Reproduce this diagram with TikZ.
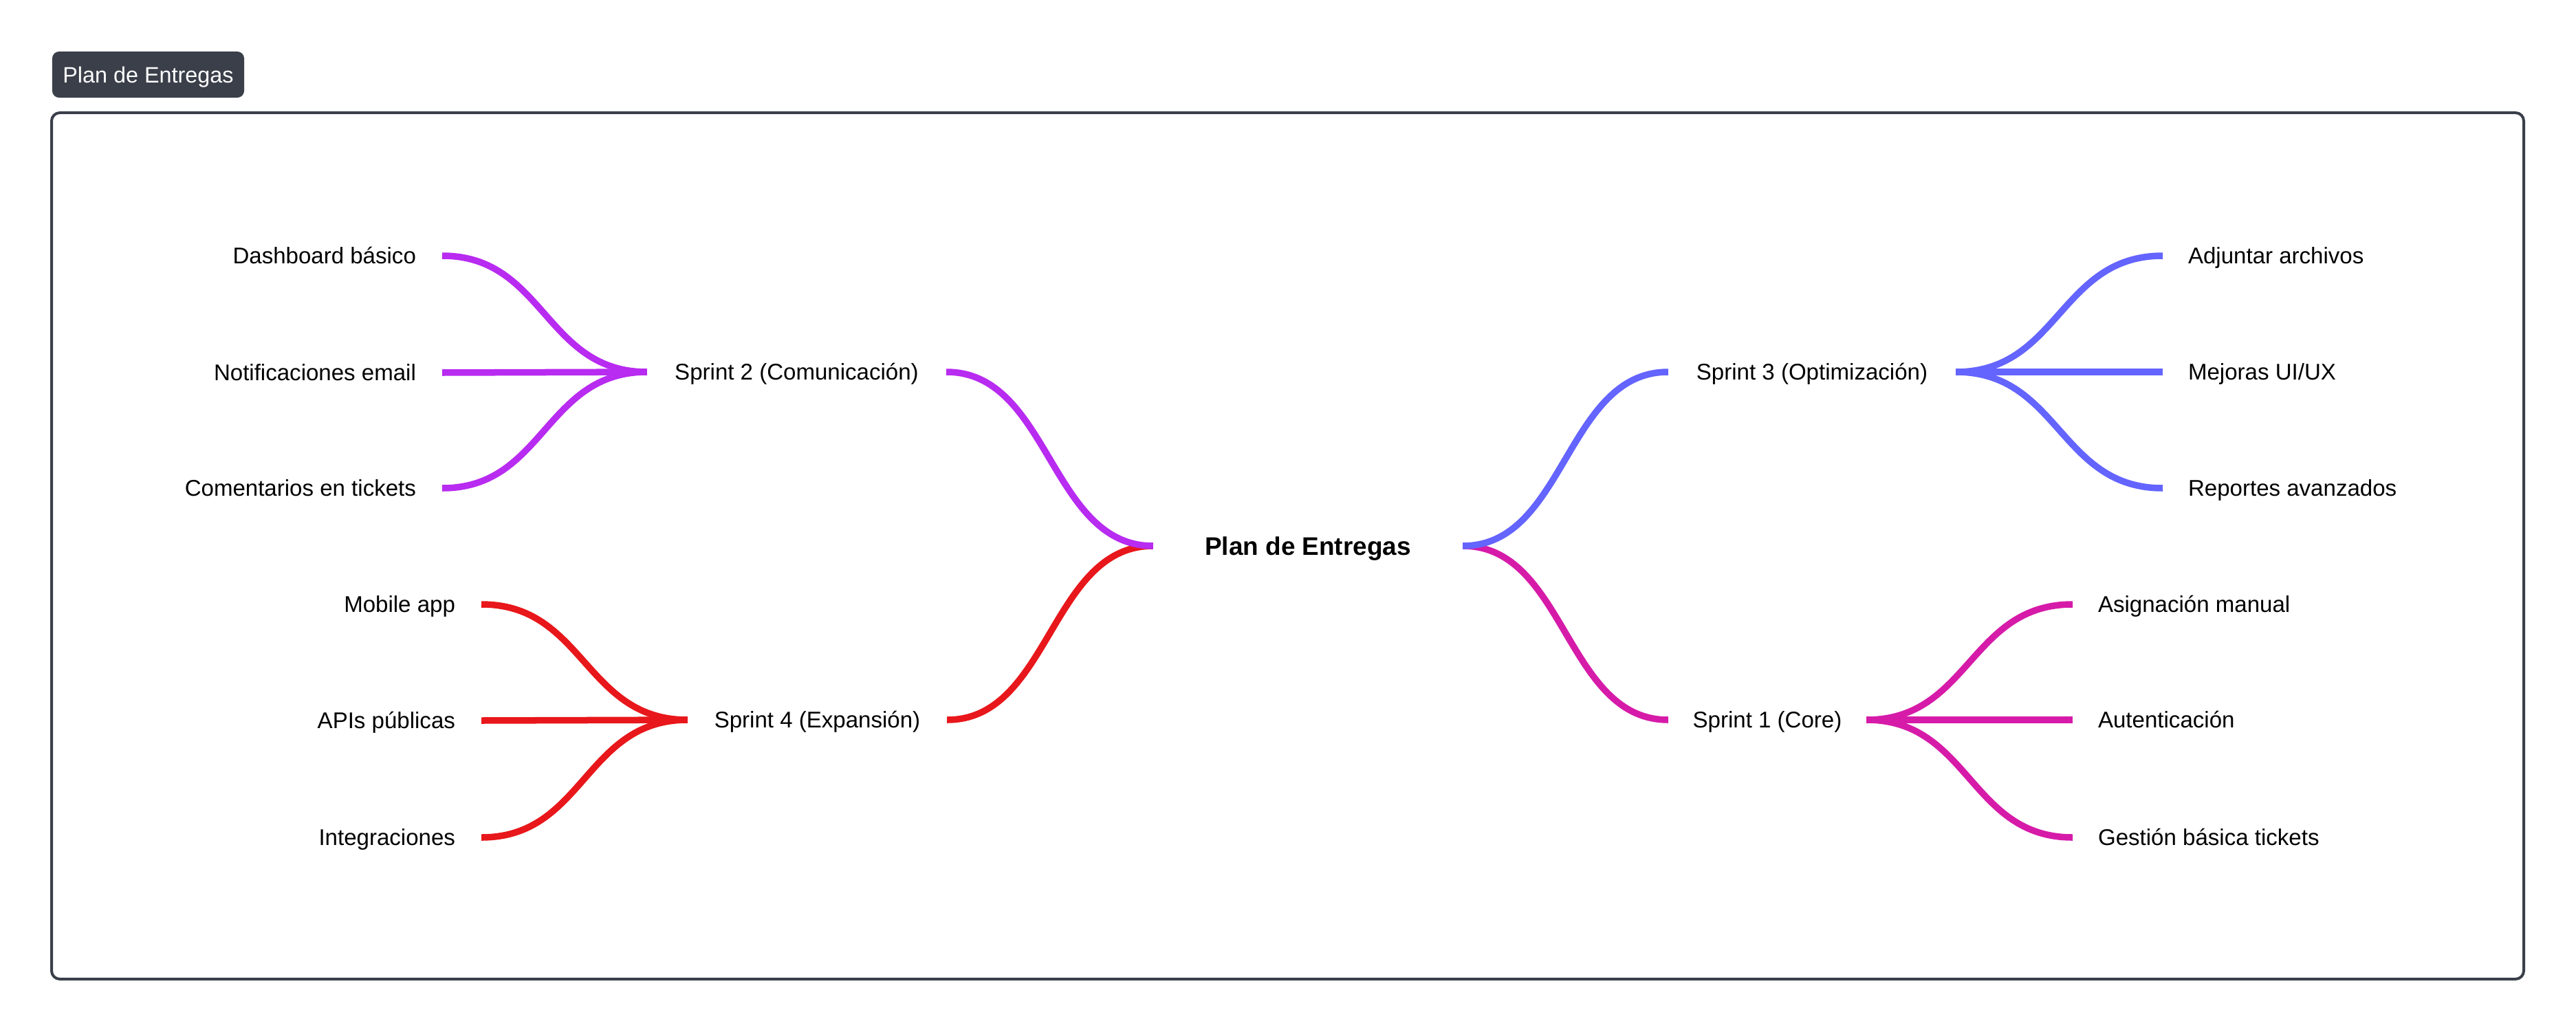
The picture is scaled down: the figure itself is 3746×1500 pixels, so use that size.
\documentclass[tikz,border=0pt]{standalone}
\usepackage{fontspec}
\setmainfont{Liberation Sans}
\usetikzlibrary{calc}
\definecolor{frm}{HTML}{3A3F4A}
\definecolor{cpur}{HTML}{B82BF0}
\definecolor{cred}{HTML}{E8171B}
\definecolor{cblu}{HTML}{6464FF}
\definecolor{cmag}{HTML}{D61BA9}
\newcommand\hlink[3]{%
  \path ($(#2)!0.5!(#3)$) coordinate (hm);
  \draw[lnk,#1] (#2) .. controls (hm |- #2) and (hm |- #3) .. (#3);}
\begin{document}
\begin{tikzpicture}[x=0.01cm,y=-0.01cm,
  txt/.style={font=\fontsize{9.4pt}{11pt}\selectfont, inner sep=0pt, outer sep=0pt,
              text=black, text height=0.235cm, text depth=0pt},
  leafL/.style={txt, anchor=east, inner xsep=0.38cm},
  leafR/.style={txt, anchor=west, inner xsep=0.37cm},
  lnk/.style={line width=0.095cm}]
\useasboundingbox (0,0) rectangle (3746,1500);
% title tag and frame
\node[fill=frm, rounded corners=0.1cm, minimum width=2.79cm, minimum height=0.67cm,
      inner sep=0pt, text=white, font=\fontsize{9.2pt}{11pt}\selectfont,
      text height=0.23cm, text depth=0pt] (title) at (215.5,108.5) {Plan de Entregas};
\draw[frm, line width=0.04cm, rounded corners=0.12cm] (75,164) rectangle (3670,1424);
% root
\node[txt, font=\fontsize{10.5pt}{12pt}\selectfont\bfseries, text height=0.27cm,
      minimum width=4.5cm] (root) at (1902,794) {Plan de Entregas};
% sprints
\node[txt, minimum width=4.35cm] (s2) at (1158.5,541) {Sprint 2 (Comunicación)};
\node[txt, minimum width=3.77cm] (s4) at (1188.5,1047) {Sprint 4 (Expansión)};
\node[txt, minimum width=4.18cm] (s3) at (2635,541) {Sprint 3 (Optimización)};
\node[txt, minimum width=2.88cm] (s1) at (2570,1047) {Sprint 1 (Core)};
% leaves
\node[leafL] (d1) at (643,372) {Dashboard básico};
\node[leafL] (d2) at (643,542) {Notificaciones email};
\node[leafL] (d3) at (643,710) {Comentarios en tickets};
\node[leafL] (e1) at (700,879) {Mobile app};
\node[leafL] (e2) at (700,1048) {APIs públicas};
\node[leafL] (e3) at (700,1218) {Integraciones};
\node[leafR] (o1) at (3145,372) {Adjuntar archivos};
\node[leafR] (o2) at (3145,541) {Mejoras UI/UX};
\node[leafR] (o3) at (3145,710) {Reportes avanzados};
\node[leafR] (c1) at (3014,879) {Asignación manual};
\node[leafR] (c2) at (3014,1047) {Autenticación};
\node[leafR] (c3) at (3014,1218) {Gestión básica tickets};
% links
\hlink{cred}{s4.east}{root.west}
\hlink{cred}{e1.east}{s4.west}
\hlink{cred}{e2.east}{s4.west}
\hlink{cred}{e3.east}{s4.west}
\hlink{cmag}{root.east}{s1.west}
\hlink{cmag}{s1.east}{c1.west}
\hlink{cmag}{s1.east}{c2.west}
\hlink{cmag}{s1.east}{c3.west}
\hlink{cpur}{s2.east}{root.west}
\hlink{cpur}{d1.east}{s2.west}
\hlink{cpur}{d2.east}{s2.west}
\hlink{cpur}{d3.east}{s2.west}
\hlink{cblu}{root.east}{s3.west}
\hlink{cblu}{s3.east}{o1.west}
\hlink{cblu}{s3.east}{o2.west}
\hlink{cblu}{s3.east}{o3.west}
\end{tikzpicture}
\end{document}
